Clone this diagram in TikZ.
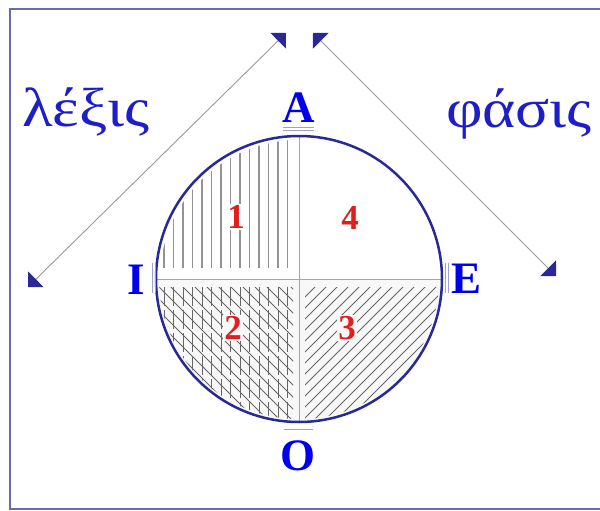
\documentclass[tikz,border=0pt]{standalone}
\usepackage{fontspec}
\setmainfont{Liberation Serif}
\newfontfamily\griechfont[FakeStretch=1.15]{Liberation Serif}
\usetikzlibrary{arrows.meta}

\definecolor{rahmen}{RGB}{105,105,180}
\definecolor{kreis}{RGB}{40,40,150}
\definecolor{kreuz}{RGB}{160,160,205}
\definecolor{schrift}{RGB}{0,0,235}
\definecolor{griech}{RGB}{30,30,200}
\definecolor{zahl}{RGB}{225,30,30}
\definecolor{spitze}{RGB}{40,40,150}
\definecolor{grund}{RGB}{248,248,248}

\begin{document}
\begin{tikzpicture}[x=1pt, y=-1pt,
    >={Triangle[length=11pt, width=22pt, color=spitze]},
    strich/.style={line width=0.9pt, gray!80},
    schraffur/.style={line width=1.3pt, gray!85},
    schraeg/.style={line width=0.8pt, gray!80!black},
    marke/.style={line width=0.8pt, kreuz},
    buchstabe/.style={font=\fontsize{45}{45}\selectfont\bfseries, schrift, inner sep=0pt},
    ziffer/.style={font=\fontsize{35}{35}\selectfont\bfseries, zahl, inner sep=1pt},
    wort/.style={font=\fontsize{55}{55}\griechfont, griech, inner sep=0pt, anchor=base west}]
    \useasboundingbox (0,0) rectangle (600,511);

    % --- Rahmen ---
    \draw[rahmen, line width=2pt] (10,9) rectangle (612,509);

    % --- Kreis und Hilfspunkte ---
    \coordinate (M) at (299,279);
    \coordinate (A0) at (299,136);
    \coordinate (O0) at (299,422);
    \coordinate (I0) at (156,279);
    \coordinate (E0) at (442,279);

    % untere Haelfte leicht grau
    \begin{scope}
        \clip (M) circle (143);
        \fill[grund] (150,279) rectangle (450,430);
    \end{scope}

    % --- Feld 1: senkrechte Linien ---
    \begin{scope}
        \clip (M) circle (139);
        \clip (150,128) rectangle (290,268);
        \foreach \x in {164,173.5,...,290}
            \draw[schraffur] (\x,128) -- (\x,268);
    \end{scope}

    % --- Feld 2: senkrecht und schraeg ---
    \begin{scope}
        \clip (M) circle (140);
        \clip (150,287) rectangle (293,430);
        \foreach \x in {164,173.5,...,290}
            \draw[schraeg, dash pattern=on 19pt off 4pt] (\x,287) -- (\x,430);
        \foreach \x in {20,32,...,300}
            \draw[schraeg] (\x,280) -- ++(160,160);
    \end{scope}

    % --- Feld 3: schraeg ---
    \begin{scope}
        \clip (M) circle (140);
        \clip (305,287) rectangle (450,430);
        \foreach \x in {140,151,...,460}
            \draw[schraeg] (\x,440) -- ++(160,-160);
    \end{scope}

    % --- Achsenkreuz ---
    \draw[marke] (I0) -- (E0);
    \draw[marke] (A0) -- (O0);

    \draw[kreis, line width=2.5pt] (M) circle (143);

    % --- Doppelstriche an den Polen ---
    \draw[marke] (283,127) -- (314,127) (283,130.5) -- (314,130.5);
    \draw[marke] (284,429) -- (313,429);
    \draw[marke] (152,263) -- (152,293) (155,263) -- (155,293);
    \draw[marke] (445,263) -- (445,293) (448,263) -- (448,293);

    % --- Buchstaben ---
    \node[buchstabe] (A) at (299,108) {A};
    \node[buchstabe] (I) at (136,280) {I};
    \node[buchstabe] (E) at (467,279) {E};
    \node[buchstabe] (O) at (298,456) {O};

    % --- Ziffern der Felder ---
    \node[ziffer, fill=white] (f1) at (236,217) {1};
    \node[ziffer] (f4) at (350,218) {4};
    \node[ziffer, fill=grund] (f2) at (233,328) {2};
    \node[ziffer, fill=grund] (f3) at (347,328) {3};

    % --- Woerter ---
    \node[wort] (lexis) at (22,126) {λέξις};
    \node[wort] (phasis) at (446,128) {φάσις};

    % --- Pfeile ---
    \coordinate (L1) at (286,33);
    \coordinate (L2) at (28,287);
    \coordinate (R1) at (313,33);
    \coordinate (R2) at (556,276);
    \draw[strich, <->] (L2) -- (L1);
    \draw[strich, <->] (R1) -- (R2);
\end{tikzpicture}
\end{document}
